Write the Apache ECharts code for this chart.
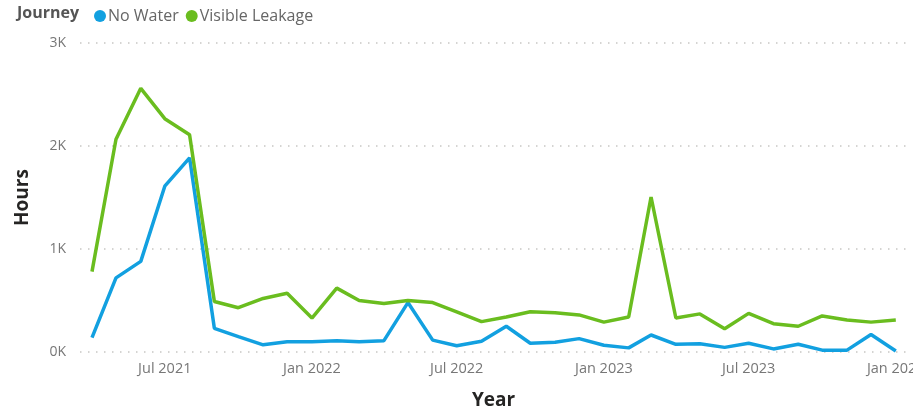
<!DOCTYPE html>
<html>
<head>
<meta charset="utf-8">
<script src="https://cdn.jsdelivr.net/npm/echarts@6/dist/echarts.min.js"></script>
<style>
  html, body { margin: 0; padding: 0; background: #fff; overflow: hidden; }
  #container01 { width: 913px; height: 410px; }
</style>
</head>
<body>
<div id="container01"></div>
<script>
// 月份（每月一日）
const months = [
    '2021-04-01', '2021-05-01', '2021-06-01', '2021-07-01', '2021-08-01', '2021-09-01',
    '2021-10-01', '2021-11-01', '2021-12-01', '2022-01-01', '2022-02-01', '2022-03-01',
    '2022-04-01', '2022-05-01', '2022-06-01', '2022-07-01', '2022-08-01', '2022-09-01',
    '2022-10-01', '2022-11-01', '2022-12-01', '2023-01-01', '2023-02-01', '2023-03-01',
    '2023-04-01', '2023-05-01', '2023-06-01', '2023-07-01', '2023-08-01', '2023-09-01',
    '2023-10-01', '2023-11-01', '2023-12-01', '2024-01-01'
];

const noWater = [
    140, 720, 880, 1610, 1885, 230,
    150, 70, 100, 100, 110, 100,
    110, 480, 115, 60, 105, 250,
    85, 95, 130, 65, 40, 165,
    75, 80, 45, 85, 30, 75,
    18, 18, 170, 10
];

const visibleLeakage = [
    780, 2065, 2560, 2265, 2110, 490,
    430, 520, 570, 330, 620, 500,
    470, 500, 480, 390, 295, 340,
    390, 380, 360, 290, 340, 1505,
    330, 370, 225, 375, 275, 250,
    350, 310, 290, 310
];

// 坐标轴刻度
const tickDates = ['2021-07-01', '2022-01-01', '2022-07-01', '2023-01-01', '2023-07-01', '2024-01-01'];
const tickLabels = ['Jul 2021', 'Jan 2022', 'Jul 2022', 'Jan 2023', 'Jul 2023', 'Jan 2024'];
const yTicks = [0, 1000, 2000, 3000];

const initLineChart = () => {
    const dom = document.getElementById('container01');
    const myChart = echarts.init(dom, null, { renderer: 'canvas' });

    const font = "'Segoe UI', 'Open Sans', 'Noto Sans', sans-serif";
    const toTime = d => Date.UTC(+d.slice(0, 4), +d.slice(5, 7) - 1, +d.slice(8, 10));
    const tickTimes = tickDates.map(toTime);

    const option = {
        animation: false,
        color: ['#12A0E0', '#6ABD1F'],
        title: {
            text: 'Journey',
            left: 12,
            top: 0,
            textStyle: { fontFamily: font, fontSize: 16, fontWeight: 'bold', color: '#555' }
        },
        legend: {
            data: ['No Water', 'Visible Leakage'],
            left: 89,
            top: 3,
            icon: 'circle',
            itemWidth: 12,
            itemHeight: 12,
            itemGap: 7,
            textStyle: { fontFamily: font, fontSize: 16, color: '#666', padding: [0, 0, 0, -3] }
        },
        grid: {
            left: 80,
            right: 6,
            top: 43,
            bottom: 58,
            outerBoundsMode: 'none'
        },
        xAxis: {
            type: 'value',
            min: toTime('2021-03-17'),
            max: toTime('2024-01-15'),
            name: 'Year',
            nameLocation: 'middle',
            nameGap: 39,
            nameTextStyle: { fontFamily: font, fontSize: 19, fontWeight: 'bold', color: '#252423' },
            axisLine: { show: false },
            axisTick: { show: false },
            splitLine: { show: false },
            axisLabel: {
                customValues: tickTimes,
                fontFamily: font,
                fontSize: 14.5,
                color: '#777',
                margin: 9,
                formatter: v => {
                    const i = tickTimes.indexOf(v);
                    return i >= 0 ? tickLabels[i] : '';
                }
            }
        },
        yAxis: {
            type: 'value',
            min: yTicks[0],
            max: yTicks[yTicks.length - 1],
            interval: 1000,
            name: 'Hours',
            nameLocation: 'middle',
            nameGap: 48,
            nameTextStyle: { fontFamily: font, fontSize: 19, fontWeight: 'bold', color: '#252423' },
            axisLine: { show: false },
            axisTick: { show: false },
            axisLabel: {
                fontFamily: font,
                fontSize: 14,
                color: '#777',
                margin: 14,
                formatter: v => (v / 1000) + 'K'
            },
            splitLine: {
                lineStyle: { color: '#c8c6c4', width: 1.5, type: [1.5, 6.5] }
            }
        },
        series: [
            {
                name: 'No Water',
                type: 'line',
                showSymbol: false,
                lineStyle: { width: 3.5 },
                data: months.map((m, i) => [toTime(m), noWater[i]])
            },
            {
                name: 'Visible Leakage',
                type: 'line',
                showSymbol: false,
                lineStyle: { width: 3.5 },
                data: months.map((m, i) => [toTime(m), visibleLeakage[i]])
            }
        ]
    };

    myChart.setOption(option);
    window.addEventListener('resize', myChart.resize);
};

initLineChart();
</script>
</body>
</html>
